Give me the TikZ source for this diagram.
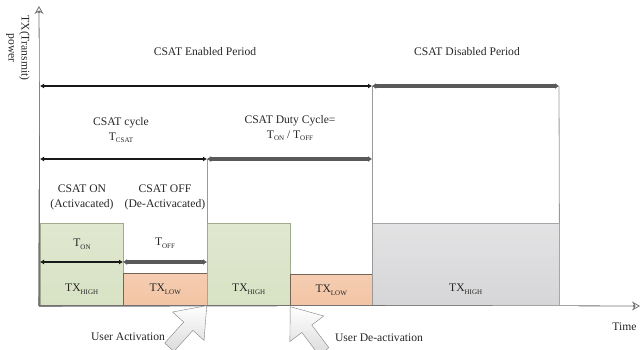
\documentclass[tikz,border=0pt]{standalone}
\usepackage{fontspec}
\setmainfont{Liberation Serif}
\usetikzlibrary{positioning}
\usetikzlibrary{arrows.meta}
\usetikzlibrary{shapes.arrows}
\usetikzlibrary{calc}

\definecolor{ongreen}{RGB}{216,226,196}
\definecolor{ongreenedge}{RGB}{160,170,140}
\definecolor{offorange}{RGB}{243,196,164}
\definecolor{offorangeedge}{RGB}{120,100,85}
\definecolor{disgray}{RGB}{214,214,216}

\newcommand{\lowsub}[1]{\raisebox{-0.55ex}{\fontsize{7}{7}\selectfont #1}}

\begin{document}
\begin{tikzpicture}[x=1pt, y=-1pt,
            font=\fontsize{11.6}{15}\selectfont, text=black!85,
            axis/.style={draw=black!55, line width=2.8pt,
            -{Stealth[open, length=8pt, width=9pt, line width=0.8pt]}},
            axisgap/.style={draw=white, line width=1.2pt, shorten >=7pt},
            periodon/.style={line width=2.7pt, black!90,
            {Latex[length=4pt, width=5pt]}-{Latex[length=4pt, width=5pt]}},
            periodoff/.style={line width=3.4pt, black!65,
            {Latex[length=4pt, width=6pt]}-{Latex[length=4pt, width=6pt]}},
            sep/.style={draw=black!40, line width=0.8pt},
            highbox/.style={draw=ongreenedge, top color=ongreen!80!white, bottom color=ongreen,
            rectangle, anchor=north west, minimum height=82pt, inner sep=0pt},
            lowbox/.style={draw=offorangeedge, top color=offorange!85!white, bottom color=offorange,
            rectangle, anchor=north west, minimum height=32pt, inner sep=0pt},
            disbox/.style={draw=black!35, top color=disgray!70!white, bottom color=disgray,
            rectangle, anchor=north west, minimum height=81pt, inner sep=0pt},
            userarrow/.style={single arrow, draw=black!50, top color=white, bottom color=black!14,
            inner sep=6pt, single arrow head extend=15pt, single arrow tip angle=75,
            minimum height=56pt, anchor=tip}]
        \useasboundingbox (0,0) rectangle (640,349);

        % axes
        \coordinate (origin) at (39,306);
        \coordinate (ytop) at (39,6);
        \coordinate (xend) at (640,306);
        \node[rotate=-90, align=center, font=\fontsize{11.6}{13}\selectfont] (ylabel) at (18,48) {TX(Transmit)\\power};
        \node[anchor=east] (xlabel) at (640,327) {Time};

        % power levels
        \node[highbox, minimum width=83pt] (onbox1) at (40,223) {};
        \node[lowbox, minimum width=84pt] (offbox1) at (123,273) {};
        \node[highbox, minimum width=83pt] (onbox2) at (207,223) {};
        \node[lowbox, minimum width=82pt] (offbox2) at (290,274) {};
        \node[disbox, minimum width=187pt, minimum height=82pt] (disbox) at (372,223) {};

        \draw[axis] (origin) -- (ytop);
        \draw[axis] (origin) -- (xend);
        \draw[axisgap] ($(origin)+(-1.4,1.4)$) -- (ytop);
        \draw[axisgap] ($(origin)+(-1.4,1.4)$) -- (xend);

        \node (txhigh1) at ($(onbox1.south)+(0,-16)$) {TX\lowsub{HIGH}};
        \node (txlow1) at ($(offbox1.south)+(0,-16)$) {TX\lowsub{LOW}};
        \node (txhigh2) at ($(onbox2.south)+(0,-16)$) {TX\lowsub{HIGH}};
        \node (txlow2) at ($(offbox2.south)+(0,-16)$) {TX\lowsub{LOW}};
        \node (txhigh3) at ($(disbox.south)+(0,-16)$) {TX\lowsub{HIGH}};

        % period marks
        \coordinate (a0) at (40,86);
        \coordinate (a1) at (372,86);
        \coordinate (a2) at (559,86);
        \coordinate (b0) at (40,159);
        \coordinate (b1) at (207,159);
        \coordinate (b2) at (372,159);
        \coordinate (c0) at (40,262);
        \coordinate (c1) at (123,262);
        \coordinate (c2) at (207,262);

        \draw[sep] (a1) -- (disbox.south west);
        \draw[sep] (a2) -- (disbox.north east);
        \draw[sep] (b1) -- (onbox2.north west);

        \draw[periodon] (a0) -- (a1);
        \draw[periodoff] (a1) -- (a2);
        \draw[periodon] (b0) -- (b1);
        \draw[periodoff] (b1) -- (b2);
        \draw[periodon] (c0) -- (c1);
        \draw[periodoff] (c1) -- (c2);

        \node (enabled) at (205,52) {CSAT Enabled Period};
        \node (disabled) at (467,52) {CSAT Disabled Period};
        \node[align=center] (cycle) at (121,130) {CSAT cycle\\T\lowsub{CSAT}};
        \node[align=center] (duty) at (290,128) {CSAT Duty Cycle=\\T\lowsub{ON} / T\lowsub{OFF}};
        \node[align=center] (onstate) at (82,197) {CSAT ON\\(Activacated)};
        \node[align=center] (offstate) at (165,197) {CSAT OFF\\(De-Activacated)};
        \node (ton) at (82,244) {T\lowsub{ON}};
        \node (toff) at (165,243) {T\lowsub{OFF}};

        % user actions
        \node[userarrow, rotate=48] (activate) at (onbox2.south west) {};
        \node[userarrow, rotate=127] (deactivate) at (offbox2.south west) {};
        \node (activatelabel) at (128,337) {User Activation};
        \node (deactivatelabel) at (379,338) {User De-activation};
    \end{tikzpicture}
\end{document}
